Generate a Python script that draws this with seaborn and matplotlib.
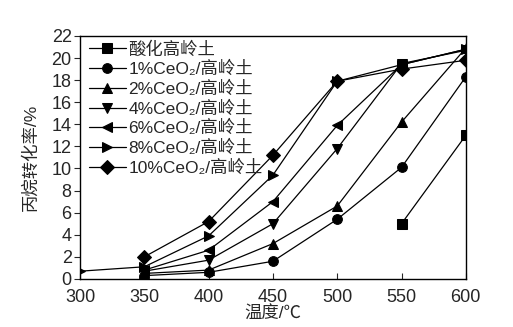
import matplotlib
matplotlib.use("Agg")
import matplotlib.pyplot as plt
import seaborn as sns
import pandas as pd

sns.set_style("ticks")
plt.rcParams['font.family'] = ['Liberation Sans', 'Noto Sans CJK SC', 'DejaVu Sans']

labels = ["酸化高岭土", "1%CeO₂/高岭土", "2%CeO₂/高岭土", "4%CeO₂/高岭土",
          "6%CeO₂/高岭土", "8%CeO₂/高岭土", "10%CeO₂/高岭土"]
markers = ["s", "o", "^", "v", "<", ">", "D"]

temp_kaolin = [550, 600]
conv_kaolin = [5.0, 13.0]
temp_1 = [350, 400, 450, 500, 550, 600]
conv_1 = [0.3, 0.6, 1.6, 5.4, 10.1, 18.3]
temp_2 = [350, 400, 450, 500, 550, 600]
conv_2 = [0.5, 0.8, 3.2, 6.6, 14.2, 20.9]
temp_4 = [350, 400, 450, 500, 550, 600]
conv_4 = [0.7, 1.7, 5.0, 11.8, 19.5, 20.7]
temp_6 = [350, 400, 450, 500, 550, 600]
conv_6 = [0.8, 2.6, 7.0, 13.9, 19.4, 20.8]
temp_8 = [300, 350, 400, 450, 500, 550, 600]
conv_8 = [0.7, 1.1, 3.9, 9.4, 17.9, 19.4, 20.8]
temp_10 = [350, 400, 450, 500, 550, 600]
conv_10 = [2.0, 5.2, 11.2, 17.9, 19.0, 19.8]

temps = [temp_kaolin, temp_1, temp_2, temp_4, temp_6, temp_8, temp_10]
convs = [conv_kaolin, conv_1, conv_2, conv_4, conv_6, conv_8, conv_10]

rows = []
for lab, t, c in zip(labels, temps, convs):
    for ti, ci in zip(t, c):
        rows.append({"温度": ti, "转化率": ci, "样品": lab})
df = pd.DataFrame(rows)

fig = plt.figure(figsize=(5.13, 3.27), dpi=100)
ax = fig.add_axes([0.156, 0.147, 0.752, 0.743])

sns.lineplot(data=df, x="温度", y="转化率", hue="样品", style="样品",
             hue_order=labels, style_order=labels,
             palette=["black"] * 7, markers=markers, dashes=False,
             markersize=7, markeredgecolor="black", linewidth=0.9, ax=ax)

fs = 13
ax.set_xlim(300, 600)
ax.set_ylim(0, 22)
ax.set_xticks([300, 350, 400, 450, 500, 550, 600])
ax.set_yticks(range(0, 23, 2))
ax.tick_params(axis='x', direction='in', length=4, labelsize=fs, pad=7)
ax.tick_params(axis='y', direction='out', length=4, labelsize=fs, pad=2)
for s in ax.spines.values():
    s.set_linewidth(1.0)
    s.set_color("black")
    s.set_visible(True)

ax.set_xlabel("温度/℃", fontsize=12.5, labelpad=0)
ax.set_ylabel("丙烷转化率/%", fontsize=12.5, labelpad=9)

leg = ax.legend(loc="upper left", frameon=False, fontsize=12.5,
                handlelength=2.1, handletextpad=0.15, labelspacing=0.2,
                borderaxespad=0.0, borderpad=0.3,
                bbox_to_anchor=(0.01, 1.0))

fig.savefig("out.png", dpi=100)
